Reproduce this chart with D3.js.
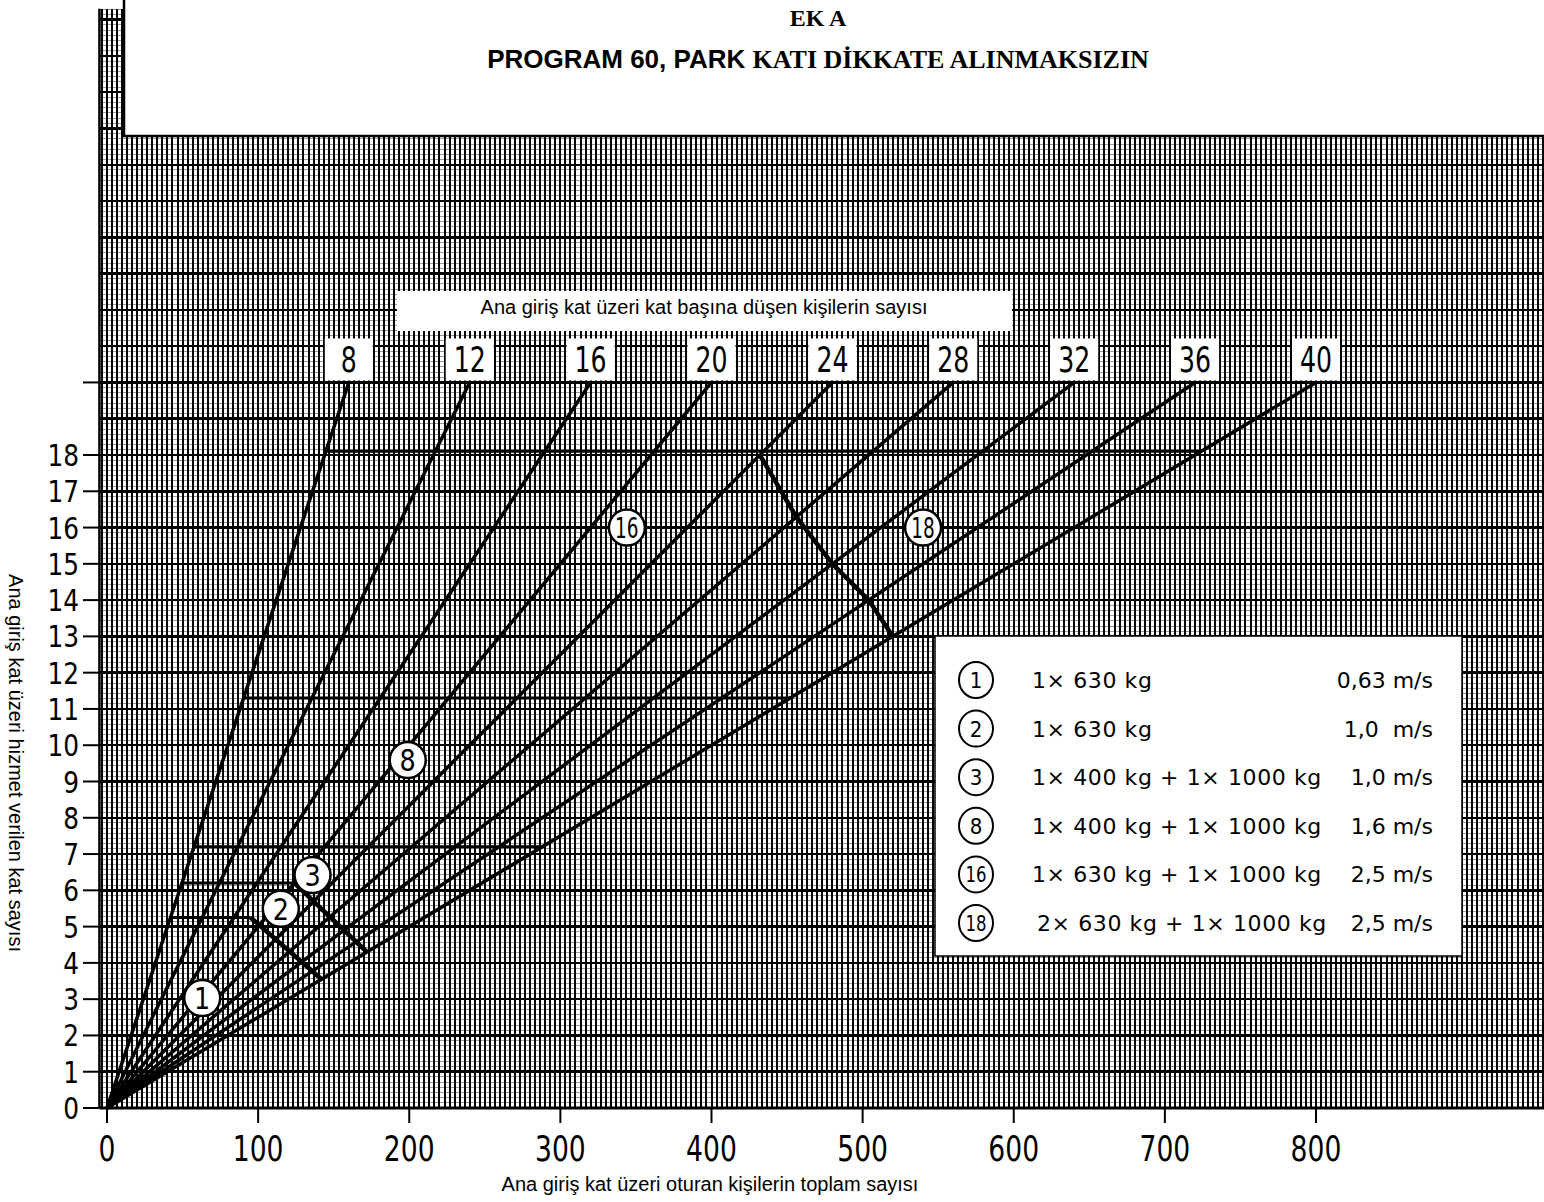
<!DOCTYPE html>
<html lang="tr">
<head>
<meta charset="UTF-8">
<title>Ek A - Program 60</title>
<script src="https://d3js.org/d3.v7.min.js"></script>
<style>
  body { margin: 0; background: #fff; }
  svg { display: block; }
  .num { font-family: "DejaVu Sans", sans-serif; }
  .arial { font-family: "Liberation Sans", Arial, sans-serif; }
</style>
</head>
<body>
<div id="chart"></div>
<script>
// --- datos ---
var perFloor = [8, 12, 16, 20, 24, 28, 32, 36, 40]   // kisi / kat
var lineTopFloor = 20
var xTicks = [0, 100, 200, 300, 400, 500, 600, 700, 800]
var yTicks = d3.range(0, 19)   // 0..18
var yTickExtra = [20]          // tick sin etiqueta

// lineas horizontales de referencia
var refFloors = [5.25, 6.2, 7.2, 11.3, 18.1]
var refEndPeople = [95, 124, 288, 452, 724]

// bordes de zonas
var zone2People = [95, 142], zone2Floors = [5.25, 3.55]
var zone3People = [124, 172], zone3Floors = [6.2, 4.3]
var zone18People = [432, 456, 480, 504, 520]
var zone18Floors = [18, 16.3, 15, 14, 13]

// numeros en circulo sobre el grafico
var markIds = ["1", "2", "3", "8", "16", "18"]
var markPeople = [63, 115, 136, 199, 344, 540]
var markFloors = [3.03, 5.49, 6.42, 9.59, 16.0, 16.0]

// leyenda
var legendIds = ["1", "2", "3", "8", "16", "18"]
var legendLoads = ["1× 630 kg", "1× 630 kg", "1× 400 kg + 1× 1000 kg",
                   "1× 400 kg + 1× 1000 kg", "1× 630 kg + 1× 1000 kg", "2× 630 kg + 1× 1000 kg"]
var legendSpeeds = ["0,63 m/s", "1,0  m/s", "1,0 m/s", "1,6 m/s", "2,5 m/s", "2,5 m/s"]

var width = 1544, height = 1202

var svg = d3.select("#chart").append("svg")
    .attr("width", width).attr("height", height)

var x = d3.scaleLinear().domain([0, 800]).range([107, 1316])
var y = d3.scaleLinear().domain([0, 18]).range([1108, 455])

// area de papel milimetrado
var gridLeft = -5, gridRight = 960, gridBottom = 0, gridTop = 30.3
svg.append("clipPath").attr("id", "gridclip")
  .append("rect")
    .attr("x", x(gridLeft)).attr("y", y(gridTop))
    .attr("width", x(gridRight) - x(gridLeft))
    .attr("height", y(gridBottom) - y(gridTop))

var grid = svg.append("g").attr("clip-path", "url(#gridclip)")
    .attr("shape-rendering", "crispEdges")

// horizontales finas
grid.selectAll("line.hmin")
  .data(d3.range(0, 30.3 * 7).map(function (i) { return i / 7 }))
  .enter().append("line")
    .attr("x1", x(gridLeft)).attr("x2", x(gridRight))
    .attr("y1", function (d) { return y(d) }).attr("y2", function (d) { return y(d) })
    .attr("stroke", "#000").attr("stroke-opacity", 0.4).attr("stroke-width", 1)

// verticales
grid.selectAll("line.v")
  .data(d3.range(-1, 290).map(function (i) { return i * 10 / 3 }))
  .enter().append("line")
    .attr("x1", function (d) { return x(d) }).attr("x2", function (d) { return x(d) })
    .attr("y1", y(gridTop)).attr("y2", y(gridBottom))
    .attr("stroke", "#000").attr("stroke-width", 2)

// horizontales gruesas (cada kat)
grid.selectAll("line.hmaj")
  .data(d3.range(0, 31))
  .enter().append("line")
    .attr("x1", x(gridLeft)).attr("x2", x(gridRight))
    .attr("y1", function (d) { return y(d) }).attr("y2", function (d) { return y(d) })
    .attr("stroke", "#000").attr("stroke-width", 2.5)

// borde izquierdo del papel
svg.append("line")
    .attr("x1", x(gridLeft)).attr("x2", x(gridLeft))
    .attr("y1", y(gridTop)).attr("y2", y(0))
    .attr("stroke", "#000").attr("stroke-width", 2.5)

// caja del titulo
svg.append("rect")
    .attr("x", 124).attr("y", -5).attr("width", 1430).attr("height", 141)
    .attr("fill", "#fff").attr("stroke", "#000").attr("stroke-width", 2.5)

svg.append("text")
    .attr("x", 818).attr("y", 26)
    .attr("text-anchor", "middle")
    .style("font-family", "'Liberation Serif', 'Times New Roman', serif")
    .style("font-weight", "bold").style("font-size", "24px")
    .text("EK A")
var t2 = svg.append("text")
    .attr("x", 818).attr("y", 68)
    .attr("text-anchor", "middle")
    .style("font-weight", "bold").style("font-size", "26px")
t2.append("tspan").attr("class", "arial").text("PROGRAM 60, PARK ")
t2.append("tspan")
    .style("font-family", "'Liberation Serif', 'Times New Roman', serif")
    .text("KATI DİKKATE ALINMAKSIZIN")

// eje X
svg.append("line")
    .attr("x1", x(gridLeft)).attr("x2", width)
    .attr("y1", y(0)).attr("y2", y(0))
    .attr("stroke", "#000").attr("stroke-width", 3)
svg.selectAll("line.xt").data(xTicks).enter().append("line")
    .attr("x1", function (d) { return x(d) }).attr("x2", function (d) { return x(d) })
    .attr("y1", y(0)).attr("y2", y(0) + 15)
    .attr("stroke", "#000").attr("stroke-width", 2)
svg.selectAll("text.xt").data(xTicks).enter().append("text")
    .attr("class", "num")
    .attr("transform", function (d) { return "translate(" + x(d) + "," + (y(0) + 53) + ") scale(0.76,1)" })
    .attr("text-anchor", "middle")
    .style("font-size", "35px")
    .text(function (d) { return d })

// eje Y
svg.selectAll("line.yt").data(yTicks.concat(yTickExtra)).enter().append("line")
    .attr("x1", 83).attr("x2", x(gridLeft))
    .attr("y1", function (d) { return y(d) }).attr("y2", function (d) { return y(d) })
    .attr("stroke", "#000").attr("stroke-width", 2)
svg.selectAll("text.yt").data(yTicks).enter().append("text")
    .attr("class", "num")
    .attr("transform", function (d) { return "translate(79," + (y(d) + 11) + ") scale(0.8,1)" })
    .attr("text-anchor", "end")
    .style("font-size", "31px")
    .text(function (d) { return d })

// titulos de ejes
svg.append("text")
    .attr("class", "arial")
    .attr("x", 710).attr("y", 1191)
    .attr("text-anchor", "middle")
    .style("font-size", "20px")
    .text("Ana giriş kat üzeri oturan kişilerin toplam sayısı")
svg.append("text")
    .attr("class", "arial")
    .attr("transform", "translate(9,763) rotate(90)")
    .attr("text-anchor", "middle")
    .style("font-size", "20px")
    .text("Ana giriş kat üzeri hizmet verilen kat sayısı")

var lineGen = d3.line()
    .x(function (d) { return x(d[0]) })
    .y(function (d) { return y(d[1]) })

// lineas de referencia horizontales (desde la linea 8)
svg.selectAll("line.ref").data(refFloors).enter().append("line")
    .attr("x1", function (d) { return x(d * perFloor[0]) })
    .attr("x2", function (d, i) { return x(refEndPeople[i]) })
    .attr("y1", function (d) { return y(d) }).attr("y2", function (d) { return y(d) })
    .attr("stroke", "#000").attr("stroke-width", 3)

// abanico de lineas kisi/kat
svg.selectAll("path.fan").data(perFloor).enter().append("path")
    .attr("d", function (n) { return lineGen([[0, 0], [n * lineTopFloor, lineTopFloor]]) })
    .attr("fill", "none").attr("stroke", "#000").attr("stroke-width", 3.5)

// bordes de zonas
var zones = [
    d3.zip(zone2People, zone2Floors),
    d3.zip(zone3People, zone3Floors),
    d3.zip(zone18People, zone18Floors)
]
svg.selectAll("path.zone").data(zones).enter().append("path")
    .attr("d", lineGen)
    .attr("fill", "none").attr("stroke", "#000").attr("stroke-width", 4.5)

// etiquetas superiores
var topLab = svg.selectAll("g.top").data(perFloor).enter().append("g")
    .attr("transform", function (n) { return "translate(" + x(n * lineTopFloor) + "," + y(lineTopFloor) + ")" })
topLab.append("rect")
    .attr("x", -24).attr("y", -44).attr("width", 48).attr("height", 42)
    .attr("fill", "#fff")
topLab.append("text")
    .attr("class", "num")
    .attr("transform", "translate(0,-10) scale(0.72,1)")
    .attr("text-anchor", "middle")
    .style("font-size", "35px")
    .text(function (n) { return n })

// caja del subtitulo
svg.append("rect")
    .attr("x", 397).attr("y", 291).attr("width", 615).attr("height", 40)
    .attr("fill", "#fff")
svg.append("text")
    .attr("class", "arial")
    .attr("x", 704).attr("y", 314)
    .attr("text-anchor", "middle")
    .style("font-size", "20px")
    .text("Ana giriş kat üzeri kat başına düşen kişilerin sayısı")

// numeros en circulo
var marks = svg.selectAll("g.mark").data(markIds).enter().append("g")
    .attr("transform", function (d, i) { return "translate(" + x(markPeople[i]) + "," + y(markFloors[i]) + ")" })
marks.append("circle").attr("r", 18)
    .attr("fill", "#fff").attr("stroke", "#000").attr("stroke-width", 2.5)
marks.append("text")
    .attr("class", "num")
    .attr("text-anchor", "middle")
    .attr("transform", function (d) { return d.length > 1 ? "translate(0,10) scale(0.66,1)" : "translate(0,11) scale(0.85,1)" })
    .style("font-size", function (d) { return d.length > 1 ? "28px" : "30px" })
    .text(function (d) { return d })

// leyenda
var legend = svg.append("g").attr("transform", "translate(935,636)")
legend.append("rect")
    .attr("width", 527).attr("height", 320)
    .attr("fill", "#fff").attr("stroke", "#000").attr("stroke-width", 1.5)
var rows = legend.selectAll("g.row").data(legendIds).enter().append("g")
    .attr("transform", function (d, i) { return "translate(0," + (44 + i * 48.6) + ")" })
rows.append("ellipse").attr("cx", 41).attr("rx", 17).attr("ry", 18)
    .attr("fill", "#fff").attr("stroke", "#000").attr("stroke-width", 2)
rows.append("text")
    .attr("class", "num")
    .attr("transform", function (d) { return "translate(41,8) scale(" + (d.length > 1 ? 0.75 : 0.9) + ",1)" })
    .attr("text-anchor", "middle")
    .style("font-size", "22px")
    .text(function (d) { return d })
rows.append("text")
    .attr("class", "num")
    .attr("x", function (d, i) { return i === 5 ? 102 : 97 }).attr("y", 8)
    .style("font-size", "22px")
    .style("letter-spacing", "0.6px")
    .style("white-space", "pre")
    .text(function (d, i) { return legendLoads[i] })
rows.append("text")
    .attr("class", "num")
    .attr("x", 498).attr("y", 8)
    .attr("text-anchor", "end")
    .style("font-size", "22px")
    .style("white-space", "pre")
    .text(function (d, i) { return legendSpeeds[i] })
</script>
</body>
</html>
